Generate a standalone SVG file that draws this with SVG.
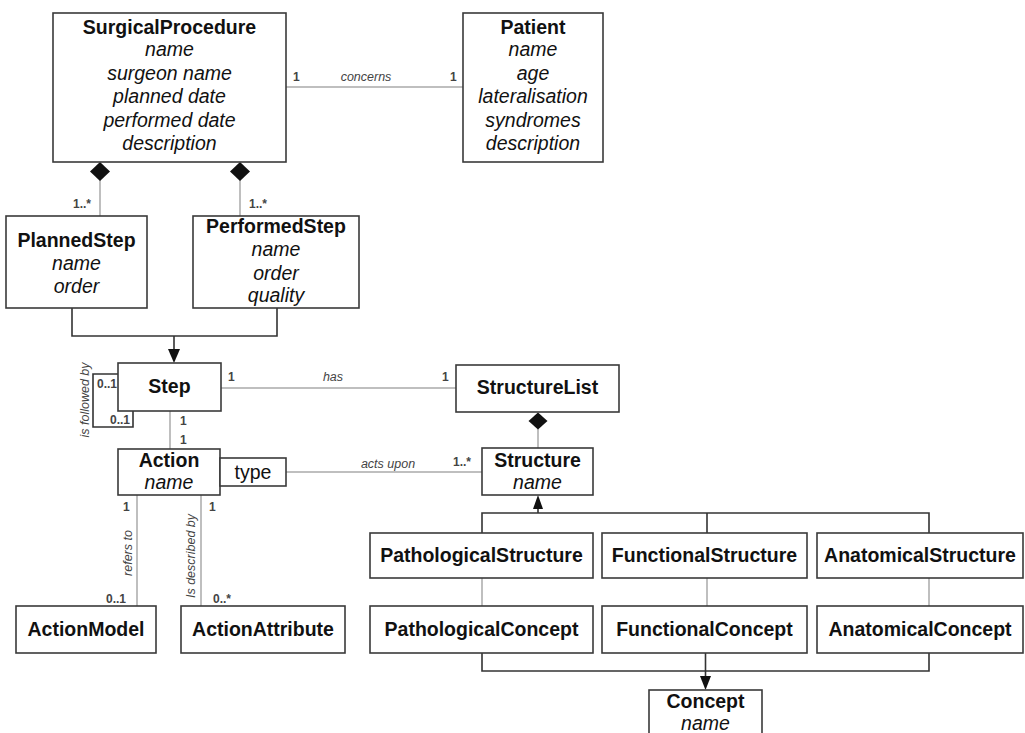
<svg xmlns="http://www.w3.org/2000/svg" width="1025" height="733" viewBox="0 0 1025 733">
<style>
.box{fill:#fff;stroke:#3a3a3a;stroke-width:1.6}
.t{font-family:"Liberation Sans",Arial,sans-serif;font-weight:bold;font-size:19.5px;fill:#111;text-anchor:middle}
.a{font-family:"Liberation Sans",Arial,sans-serif;font-style:italic;font-size:19.5px;fill:#111;text-anchor:middle}
.r{font-family:"Liberation Sans",Arial,sans-serif;font-size:19.5px;fill:#111;text-anchor:middle}
.assoc{fill:none;stroke:#aaa;stroke-width:1.5}
.gen{fill:none;stroke:#333;stroke-width:1.6}
.m{font-family:"Liberation Sans",Arial,sans-serif;font-weight:bold;font-size:12px;fill:#444}
.l{font-family:"Liberation Sans",Arial,sans-serif;font-style:italic;font-size:12.5px;fill:#444}
.head{fill:#111;stroke:none}
</style>
<rect width="1025" height="733" fill="#fff"/>
<g id="connectors">
  <!-- concerns -->
  <line class="assoc" x1="286" y1="87" x2="463" y2="87"/>
  <text class="m" x="293" y="81">1</text>
  <text class="l" x="366" y="81" text-anchor="middle">concerns</text>
  <text class="m" x="450" y="81">1</text>
  <!-- compositions SurgicalProcedure -->
  <line class="assoc" x1="100" y1="180" x2="100" y2="216"/>
  <polygon class="head" points="100,162 110,171.5 100,181 90,171.5"/>
  <text class="m" x="73" y="208">1..*</text>
  <line class="assoc" x1="240" y1="180" x2="240" y2="216"/>
  <polygon class="head" points="240,162 250,171.5 240,181 230,171.5"/>
  <text class="m" x="249" y="208">1..*</text>
  <!-- generalization to Step -->
  <polyline class="gen" points="72,308 72,336 277,336 277,308"/>
  <line class="gen" x1="174" y1="336" x2="174" y2="350"/>
  <polygon class="head" points="168,349 180,349 174,363"/>
  <!-- self loop -->
  <polyline class="gen" points="118,374 93,374 93,427 133,427 133,411"/>
  <text class="m" x="97" y="388">0..1</text>
  <text class="m" x="110" y="424">0..1</text>
  <text class="l" transform="translate(89,400) rotate(-90)" text-anchor="middle">is followed by</text>
  <!-- has -->
  <line class="assoc" x1="220" y1="388" x2="456" y2="388"/>
  <text class="m" x="228" y="381">1</text>
  <text class="l" x="333" y="381" text-anchor="middle">has</text>
  <text class="m" x="442" y="381">1</text>
  <!-- Step - Action -->
  <line class="assoc" x1="170" y1="411" x2="170" y2="449"/>
  <text class="m" x="180" y="425">1</text>
  <text class="m" x="180" y="444">1</text>
  <!-- StructureList composition -->
  <line class="assoc" x1="538" y1="429" x2="538" y2="448"/>
  <polygon class="head" points="538,412.5 547.5,421 538,429.5 528.5,421"/>
  <!-- acts upon -->
  <line class="assoc" x1="286" y1="472" x2="482" y2="472"/>
  <text class="l" x="388" y="468" text-anchor="middle">acts upon</text>
  <text class="m" x="453" y="466">1..*</text>
  <!-- Action - ActionModel -->
  <line class="assoc" x1="137" y1="495" x2="137" y2="606"/>
  <text class="m" x="123" y="511">1</text>
  <text class="l" transform="translate(132,553) rotate(-90)" text-anchor="middle">refers to</text>
  <text class="m" x="106" y="603">0..1</text>
  <!-- Action - ActionAttribute -->
  <line class="assoc" x1="201" y1="495" x2="201" y2="606"/>
  <text class="m" x="209" y="511">1</text>
  <text class="l" transform="translate(195,556) rotate(-90)" text-anchor="middle">Is described by</text>
  <text class="m" x="213" y="603">0..*</text>
  <!-- generalization to Structure -->
  <polyline class="gen" points="482,533 482,513 929,513 929,533"/>
  <line class="gen" x1="707" y1="513" x2="707" y2="533"/>
  <line class="gen" x1="538" y1="513" x2="538" y2="506"/>
  <polygon class="head" points="533,509 543,509 538,495"/>
  <!-- structure - concept -->
  <line class="assoc" x1="482" y1="578" x2="482" y2="606"/>
  <line class="assoc" x1="707" y1="578" x2="707" y2="606"/>
  <line class="assoc" x1="929" y1="578" x2="929" y2="606"/>
  <!-- generalization to Concept -->
  <polyline class="gen" points="482,653 482,671 929,671 929,653"/>
  <line class="gen" x1="705.5" y1="653" x2="705.5" y2="677"/>
  <polygon class="head" points="700,676 711,676 705.5,690"/>
</g>
<g id="SurgicalProcedure">
  <rect class="box" x="53" y="13" width="233" height="149"/>
  <text class="t" x="169.5" y="34">SurgicalProcedure</text>
  <text class="a" x="169.5" y="56">name</text>
  <text class="a" x="169.5" y="80">surgeon name</text>
  <text class="a" x="169.5" y="103">planned date</text>
  <text class="a" x="169.5" y="127">performed date</text>
  <text class="a" x="169.5" y="150">description</text>
</g>
<g id="Patient">
  <rect class="box" x="463" y="13" width="140" height="149"/>
  <text class="t" x="533" y="34">Patient</text>
  <text class="a" x="533" y="56">name</text>
  <text class="a" x="533" y="80">age</text>
  <text class="a" x="533" y="103">lateralisation</text>
  <text class="a" x="533" y="127">syndromes</text>
  <text class="a" x="533" y="150">description</text>
</g>
<g id="PlannedStep">
  <rect class="box" x="6" y="216" width="141" height="92"/>
  <text class="t" x="76.5" y="247">PlannedStep</text>
  <text class="a" x="76.5" y="270">name</text>
  <text class="a" x="76.5" y="293">order</text>
</g>
<g id="PerformedStep">
  <rect class="box" x="193" y="216" width="166" height="92"/>
  <text class="t" x="276" y="233">PerformedStep</text>
  <text class="a" x="276" y="256">name</text>
  <text class="a" x="276" y="280">order</text>
  <text class="a" x="276" y="302">quality</text>
</g>
<g id="Step">
  <rect class="box" x="118" y="363" width="103" height="48"/>
  <text class="t" x="169.5" y="393">Step</text>
</g>
<g id="StructureList">
  <rect class="box" x="456" y="365" width="163" height="47"/>
  <text class="t" x="537.5" y="394">StructureList</text>
</g>
<g id="Action">
  <rect class="box" x="118" y="449" width="102" height="46"/>
  <text class="t" x="169" y="467">Action</text>
  <text class="a" x="169" y="489">name</text>
</g>
<g id="type">
  <rect class="box" x="220" y="458" width="66" height="28"/>
  <text class="r" x="253" y="479">type</text>
</g>
<g id="Structure">
  <rect class="box" x="482" y="448" width="111" height="47"/>
  <text class="t" x="537.5" y="467">Structure</text>
  <text class="a" x="537.5" y="489">name</text>
</g>
<g id="ActionModel">
  <rect class="box" x="16" y="606" width="140" height="47"/>
  <text class="t" x="86" y="636">ActionModel</text>
</g>
<g id="ActionAttribute">
  <rect class="box" x="181" y="606" width="164" height="47"/>
  <text class="t" x="263" y="636">ActionAttribute</text>
</g>
<g id="PathologicalStructure">
  <rect class="box" x="370" y="533" width="223" height="45"/>
  <text class="t" x="481.5" y="562">PathologicalStructure</text>
</g>
<g id="FunctionalStructure">
  <rect class="box" x="602" y="533" width="205" height="45"/>
  <text class="t" x="704.5" y="562">FunctionalStructure</text>
</g>
<g id="AnatomicalStructure">
  <rect class="box" x="817" y="533" width="206" height="45"/>
  <text class="t" x="920" y="562">AnatomicalStructure</text>
</g>
<g id="PathologicalConcept">
  <rect class="box" x="370" y="606" width="223" height="47"/>
  <text class="t" x="481.5" y="636">PathologicalConcept</text>
</g>
<g id="FunctionalConcept">
  <rect class="box" x="602" y="606" width="205" height="47"/>
  <text class="t" x="704.5" y="636">FunctionalConcept</text>
</g>
<g id="AnatomicalConcept">
  <rect class="box" x="817" y="606" width="206" height="47"/>
  <text class="t" x="920" y="636">AnatomicalConcept</text>
</g>
<g id="Concept">
  <rect class="box" x="649" y="690" width="113" height="50"/>
  <text class="t" x="705.5" y="708">Concept</text>
  <text class="a" x="705.5" y="730">name</text>
</g>
</svg>
